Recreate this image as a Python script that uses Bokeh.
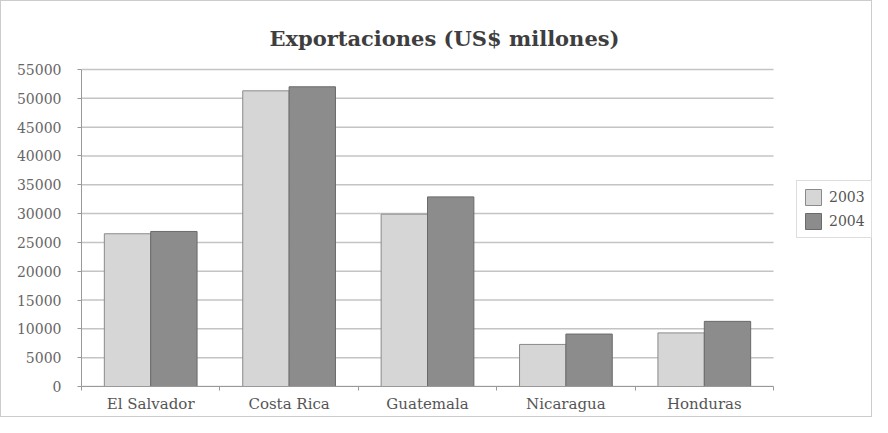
from bokeh.plotting import figure
from bokeh.models import (ColumnDataSource, Range1d, Legend, LegendItem, FixedTicker, Label)
from bokeh.transform import dodge
from bokeh.embed import file_html
from bokeh.resources import INLINE

countries = ["El Salvador", "Costa Rica", "Guatemala", "Nicaragua", "Honduras"]
years = ["2003", "2004"]
exp_2003 = [26500, 51300, 29900, 7300, 9300]
exp_2004 = [26900, 52000, 32900, 9100, 11300]
y_ticks = [0, 5000, 10000, 15000, 20000, 25000, 30000, 35000, 40000, 45000, 50000, 55000]
title_text = "Exportaciones (US$ millones)"

SERIF = "DejaVu Serif"

# geometry (pixels)
W, H = 872, 417
LEFT, BOTTOM = 80, 32
PLOT_W, PLOT_H = 692, 317          # width / height of the bar area
frame_w, frame_h = W - LEFT, H - BOTTOM
n = len(countries)
y_max = y_ticks[-1]
x_end = n * frame_w / PLOT_W
y_end = y_max * frame_h / PLOT_H

idx = list(range(n))
bw = 0.335
src = ColumnDataSource(dict(
    country=countries,
    pos=[i + 0.5 for i in idx],
    y2003=exp_2003, y2004=exp_2004))

p = figure(width=W, height=H, output_backend="svg", toolbar_location=None,
           x_range=Range1d(0, x_end), y_range=Range1d(0, y_end),
           min_border_left=LEFT, min_border_right=0, min_border_top=0,
           min_border_bottom=BOTTOM)

# horizontal grid lines, limited to the bar area
gsrc = ColumnDataSource(dict(y=y_ticks, x0=[0] * len(y_ticks), x1=[n] * len(y_ticks)))
p.segment(x0="x0", x1="x1", y0="y", y1="y", source=gsrc, line_color="#c4c4c4", line_width=1.5)

r1 = p.vbar(x=dodge("pos", -bw / 2), top="y2003", width=bw, source=src,
            fill_color="#d6d6d6", line_color="#8a8a8a", line_width=1)
r2 = p.vbar(x=dodge("pos", bw / 2), top="y2004", width=bw, source=src,
            fill_color="#8c8c8c", line_color="#6a6a6a", line_width=1)

p.add_layout(Label(x=n / 2, y=y_max, x_offset=17, y_offset=31, text=title_text,
                   text_align="center", text_baseline="middle", text_font=SERIF,
                   text_font_size="21px", text_font_style="bold", text_color="#3e3e3e"))

p.yaxis.ticker = FixedTicker(ticks=y_ticks)
p.yaxis.bounds = (0, y_max)
p.yaxis.major_label_text_font = SERIF
p.yaxis.major_label_text_font_size = "14px"
p.yaxis.major_label_text_color = "#666666"
p.yaxis.axis_line_color = "#999999"
p.yaxis.major_tick_line_color = "#999999"
p.yaxis.major_tick_out = 4
p.yaxis.major_tick_in = 0
p.yaxis.minor_tick_line_color = None
p.yaxis.major_label_standoff = 16

p.xaxis.ticker = FixedTicker(ticks=[i + 0.5 for i in idx], minor_ticks=list(range(n + 1)))
p.xaxis.major_label_overrides = {i + 0.5: c for i, c in zip(idx, countries)}
p.xaxis.bounds = (0, n)
p.xaxis.major_label_text_font = SERIF
p.xaxis.major_label_text_font_size = "15px"
p.xaxis.major_label_text_color = "#555555"
p.xaxis.axis_line_color = "#999999"
p.xaxis.major_tick_line_color = None
p.xaxis.minor_tick_line_color = "#999999"
p.xaxis.minor_tick_out = 4
p.xaxis.minor_tick_in = 0
p.xaxis.major_label_standoff = 2

p.xgrid.grid_line_color = None
p.ygrid.grid_line_color = None
p.outline_line_color = None

legend = Legend(items=[LegendItem(label=years[0], renderers=[r1]),
                       LegendItem(label=years[1], renderers=[r2])],
                location=(715, 148), label_text_font=SERIF, label_text_font_size="14px",
                label_text_color="#555555", border_line_color="#bbbbbb",
                glyph_width=20, glyph_height=20, spacing=4, padding=6, margin=0,
                label_standoff=6, background_fill_alpha=1.0)
p.add_layout(legend, "center")

p.border_fill_color = "white"
p.styles = {"border": "1px solid #cccccc"}

open("out.html", "w").write(file_html(p, INLINE))
